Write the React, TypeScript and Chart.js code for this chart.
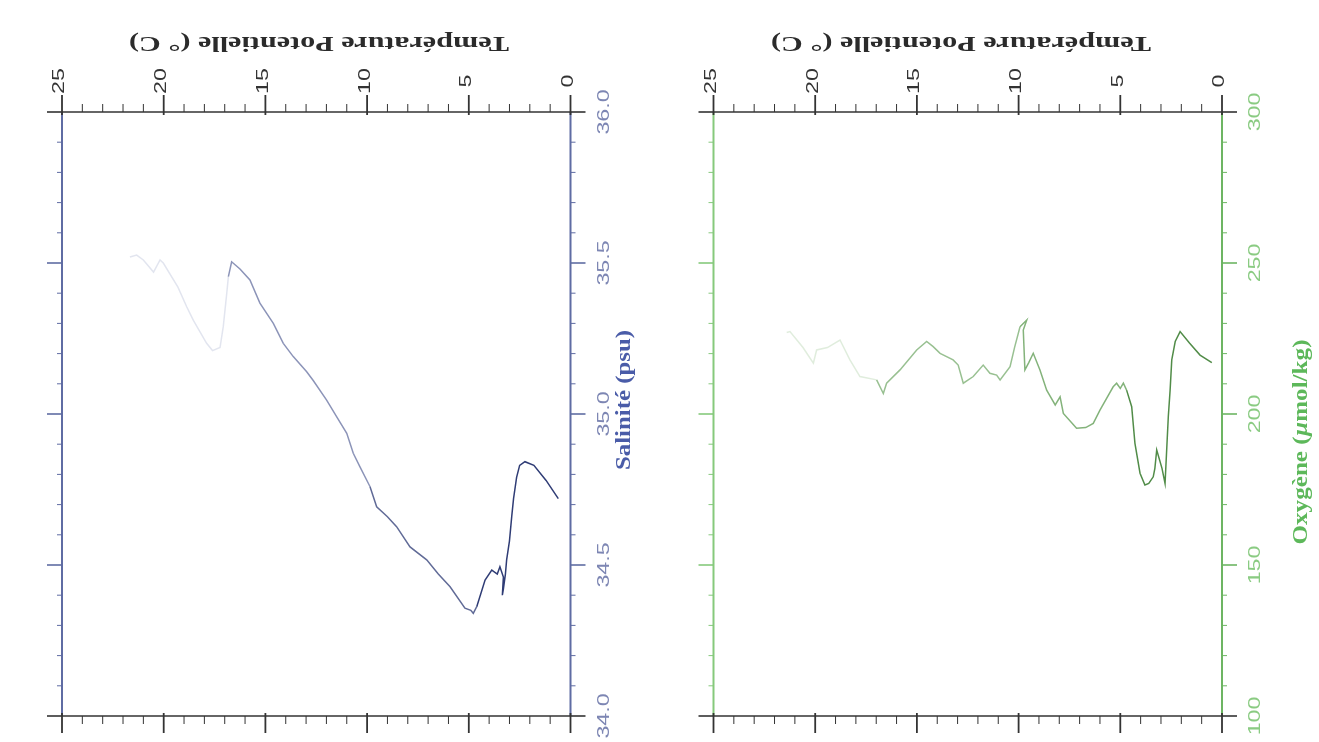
import React, { useEffect, useRef } from "react";
import { Chart, registerables } from "chart.js";
Chart.register(...registerables);

// ---- tick labels ----
const tempTicks = [0, 5, 10, 15, 20, 25];
const salTicks = [34.0, 34.5, 35.0, 35.5, 36.0];
const salTickLabels = ["34.0", "34.5", "35.0", "35.5", "36.0"];
const oxyTicks = [100, 150, 200, 250, 300];
const oxyTickLabels = ["100", "150", "200", "250", "300"];

// ---- salinity profile (potential temperature °C, salinity psu) ----
const salTemp = [
  0.6, 1.2, 1.8, 2.24, 2.5, 2.65, 2.8, 2.89, 3.0, 3.14, 3.2, 3.3, 3.35, 3.3, 3.47, 3.6, 3.87, 4.2, 4.61, 4.78,
  4.9, 5.19, 5.92, 6.5, 7.07, 7.89, 8.55, 9.0, 9.53, 9.86, 10.35, 10.68, 11.0, 11.5, 11.99, 12.64, 12.97, 13.63,
  14.12, 14.61, 15.27, 15.76, 16.25, 16.66, 16.82, 16.9, 17.07, 17.23, 17.6, 17.89, 18.54, 18.87, 19.3, 20.02,
  20.18, 20.5, 21.0, 21.33, 21.66,
];
const salValues = [
  34.72, 34.78, 34.83, 34.842, 34.83, 34.79, 34.72, 34.66, 34.58, 34.517, 34.47, 34.42, 34.4, 34.46, 34.494,
  34.47, 34.483, 34.45, 34.362, 34.34, 34.35, 34.357, 34.428, 34.47, 34.517, 34.56, 34.627, 34.66, 34.693, 34.76,
  34.825, 34.87, 34.936, 34.991, 35.046, 35.11, 35.14, 35.19, 35.234, 35.3, 35.367, 35.444, 35.48, 35.504,
  35.455, 35.4, 35.29, 35.22, 35.21, 35.234, 35.31, 35.355, 35.42, 35.5, 35.51, 35.47, 35.51, 35.526, 35.52,
];

// ---- oxygen profile (potential temperature °C, oxygen µmol/kg) ----
const oxyTemp = [
  0.5, 1.08, 1.6, 2.06, 2.3, 2.47, 2.55, 2.64, 2.72, 2.8, 2.95, 3.21, 3.3, 3.38, 3.6, 3.79, 4.03, 4.28, 4.44,
  4.69, 4.85, 5.0, 5.18, 5.35, 6.0, 6.33, 6.7, 7.15, 7.8, 7.96, 8.2, 8.62, 8.95, 9.28, 9.5, 9.69, 9.77, 9.6,
  9.93, 10.2, 10.42, 10.91, 11.08, 11.41, 11.74, 12.23, 12.72, 12.97, 13.22, 13.86, 14.2, 14.52, 15.01, 15.83,
  16.49, 16.65, 16.98, 17.8, 18.3, 18.78, 19.4, 19.93, 20.09, 20.6, 21.24, 21.4,
];
const oxyValues = [
  217, 219.5, 223.5, 227.3, 224, 217.9, 208, 199.1, 188.1, 177, 182, 188.1, 182, 179.2, 177, 176.5, 180.4,
  190.3, 202.4, 207.9, 210.2, 208.5, 210.2, 209, 201.3, 196.9, 195.5, 195.3, 200.2, 205.7, 203, 207.9, 214.6,
  220.1, 217, 214.6, 227.8, 231.1, 228.9, 222, 215.7, 211.3, 212.9, 213.5, 216.2, 212.4, 210.2, 216.2, 217.9,
  220.1, 222.3, 224, 221.2, 214.6, 210.2, 206.8, 211.3, 212.4, 218, 224.5, 222, 221.2, 216.8, 222, 227.3, 227,
];

const TEMP_TITLE = "Température Potentielle (° C)";

function salColor(t: number) {
  if (t < 4.6) return "rgba(36,50,110,0.95)";
  if (t < 10) return "rgba(58,70,125,0.8)";
  if (t < 16.8) return "rgba(70,82,140,0.62)";
  return "rgba(125,135,180,0.22)";
}
function oxyColor(t: number) {
  if (t < 4.6) return "rgba(62,128,52,0.9)";
  if (t < 10) return "rgba(84,150,72,0.72)";
  if (t < 17) return "rgba(84,150,72,0.6)";
  return "rgba(130,185,120,0.25)";
}

function drawParts(ctx, parts, x, y, angle, color, len) {
  let total = 0;
  const widths = parts.map((p) => {
    ctx.font = p.font;
    const w = ctx.measureText(p.text).width;
    total += w;
    return w;
  });
  const s = len ? len / total : 1;
  ctx.save();
  ctx.translate(x, y);
  ctx.rotate(angle);
  ctx.scale(s, 1);
  ctx.fillStyle = color;
  ctx.textBaseline = "middle";
  ctx.textAlign = "left";
  let cx = -total / 2;
  parts.forEach((p, i) => {
    ctx.font = p.font;
    ctx.fillText(p.text, cx, 0);
    cx += widths[i];
  });
  ctx.restore();
}

function drawLabel(ctx, text, x, y, angle, font, color, stretch) {
  ctx.save();
  ctx.translate(x, y);
  ctx.rotate(angle);
  ctx.scale(stretch, 1);
  ctx.font = font;
  ctx.fillStyle = color;
  ctx.textAlign = "center";
  ctx.textBaseline = "middle";
  ctx.fillText(text, 0, 0);
  ctx.restore();
}

function makeFramePlugin(cfg) {
  return {
    id: "frame" + cfg.id,
    afterDraw(chart) {
      const ctx = chart.ctx;
      const { left, right, top, bottom } = chart.chartArea;
      const xs = chart.scales.x;
      const ys = chart.scales.y;
      const line = (x1, y1, x2, y2) => {
        ctx.beginPath();
        ctx.moveTo(x1, y1);
        ctx.lineTo(x2, y2);
        ctx.stroke();
      };
      ctx.save();
      // vertical axis (right) and mirrored left border
      ctx.strokeStyle = cfg.axisColor;
      ctx.lineWidth = 2;
      line(right, top, right, bottom);
      ctx.strokeStyle = cfg.leftColor;
      line(left, top, left, bottom);
      const n = Math.round((cfg.vMax - cfg.vMin) / cfg.vStep);
      for (let i = 0; i <= n; i++) {
        const py = ys.getPixelForValue(cfg.vMin + i * cfg.vStep);
        const major = i % 5 === 0;
        const edge = i === 0 || i === n;
        ctx.lineWidth = major ? 1.6 : 1;
        ctx.strokeStyle = edge ? "#333" : cfg.axisColor;
        line(right, py, right + (major ? 15 : 5), py);
        ctx.strokeStyle = edge ? "#333" : cfg.leftColor;
        line(left - (major ? 15 : 5), py, left, py);
      }
      // temperature axis (top) and mirrored bottom border
      ctx.strokeStyle = "#333";
      ctx.lineWidth = 1.6;
      line(left, top, right, top);
      line(left, bottom, right, bottom);
      for (let t = 0; t <= 25; t++) {
        const px = xs.getPixelForValue(t);
        const major = t % 5 === 0;
        ctx.lineWidth = major ? 1.8 : 1;
        line(px, top - (major ? 17 : 8), px, top + (major ? 3 : 0));
        line(px, bottom - (major ? 3 : 0), px, bottom + (major ? 17 : 8));
      }
      // temperature tick labels
      tempTicks.forEach((t) => {
        const px = xs.getPixelForValue(t);
        drawLabel(ctx, String(t), px - 2, top - 31, -Math.PI / 2, "16px 'Liberation Sans'", "#333", 1.45);
      });
      // vertical axis tick labels
      cfg.vTicks.forEach((v, i) => {
        const py = ys.getPixelForValue(v);
        drawLabel(ctx, cfg.vLabels[i], right + 34, py, -Math.PI / 2, "16px 'Liberation Sans'", cfg.labelColor, 1.45);
      });
      // titles
      drawParts(ctx, [{ text: TEMP_TITLE, font: "bold 20px 'Liberation Serif'" }], cfg.tTitleX, 42, Math.PI, "#2b2b2b", 380);
      drawParts(ctx, cfg.vTitle, cfg.vTitleX, cfg.vTitleY, -Math.PI / 2, cfg.vTitleColor, cfg.vTitleLen);
      ctx.restore();
    },
  };
}

function makeConfig(points, colorFn, yMin, yMax, padding, plugin) {
  return {
    type: "scatter",
    data: {
      datasets: [
        {
          data: points,
          showLine: true,
          pointRadius: 0,
          borderWidth: 1.5,
          borderColor: colorFn(0),
          segment: {
            borderColor: (c) => colorFn((c.p0.parsed.x + c.p1.parsed.x) / 2),
          },
        },
      ],
    },
    options: {
      responsive: false,
      animation: false,
      devicePixelRatio: 1,
      events: [],
      layout: { padding },
      plugins: { legend: { display: false }, tooltip: { enabled: false }, title: { display: false } },
      scales: {
        x: { type: "linear", min: 0, max: 25, reverse: true, display: false },
        y: { type: "linear", min: yMin, max: yMax, display: false },
      },
    },
    plugins: [plugin],
  };
}

export default function App() {
  const refA = useRef(null);
  const refB = useRef(null);
  useEffect(() => {
    const salPoints = salTemp.map((t, i) => ({ x: t, y: salValues[i] }));
    const oxyPoints = oxyTemp.map((t, i) => ({ x: t, y: oxyValues[i] }));
    const pA = makeFramePlugin({
      id: "A",
      vMin: 34,
      vMax: 36,
      vStep: 0.1,
      vTicks: salTicks,
      vLabels: salTickLabels,
      axisColor: "#5f6ca3",
      leftColor: "#5f6ca3",
      labelColor: "#7d86b3",
      tTitleX: 319,
      vTitle: [{ text: "Salinité (psu)", font: "bold 20px 'Liberation Serif'" }],
      vTitleX: 625,
      vTitleY: 400,
      vTitleLen: 140,
      vTitleColor: "#4a5ca8",
    });
    const pB = makeFramePlugin({
      id: "B",
      vMin: 100,
      vMax: 300,
      vStep: 10,
      vTicks: oxyTicks,
      vLabels: oxyTickLabels,
      axisColor: "#6db563",
      leftColor: "#86c97c",
      labelColor: "#8acb82",
      tTitleX: 311,
      vTitle: [
        { text: "Oxygène (", font: "bold 20px 'Liberation Serif'" },
        { text: "µ", font: "italic bold 20px 'Liberation Serif'" },
        { text: "mol/kg)", font: "bold 20px 'Liberation Serif'" },
      ],
      vTitleX: 652,
      vTitleY: 442,
      vTitleLen: 205,
      vTitleColor: "#5db85a",
    });
    const a = new Chart(
      refA.current,
      makeConfig(salPoints, salColor, 34, 36, { left: 62, right: 79.5, top: 112, bottom: 26 }, pA)
    );
    const b = new Chart(
      refB.current,
      makeConfig(oxyPoints, oxyColor, 100, 300, { left: 63.5, right: 97, top: 112, bottom: 26 }, pB)
    );
    return () => {
      a.destroy();
      b.destroy();
    };
  }, []);
  return (
    <div
      style={{
        position: "absolute",
        left: 0,
        top: 0,
        width: 1319,
        height: 742,
        background: "#fff",
        overflow: "hidden",
      }}
    >
      <canvas ref={refA} width={650} height={742} style={{ position: "absolute", left: 0, top: 0, width: 650, height: 742 }} />
      <canvas ref={refB} width={669} height={742} style={{ position: "absolute", left: 650, top: 0, width: 669, height: 742 }} />
    </div>
  );
}
